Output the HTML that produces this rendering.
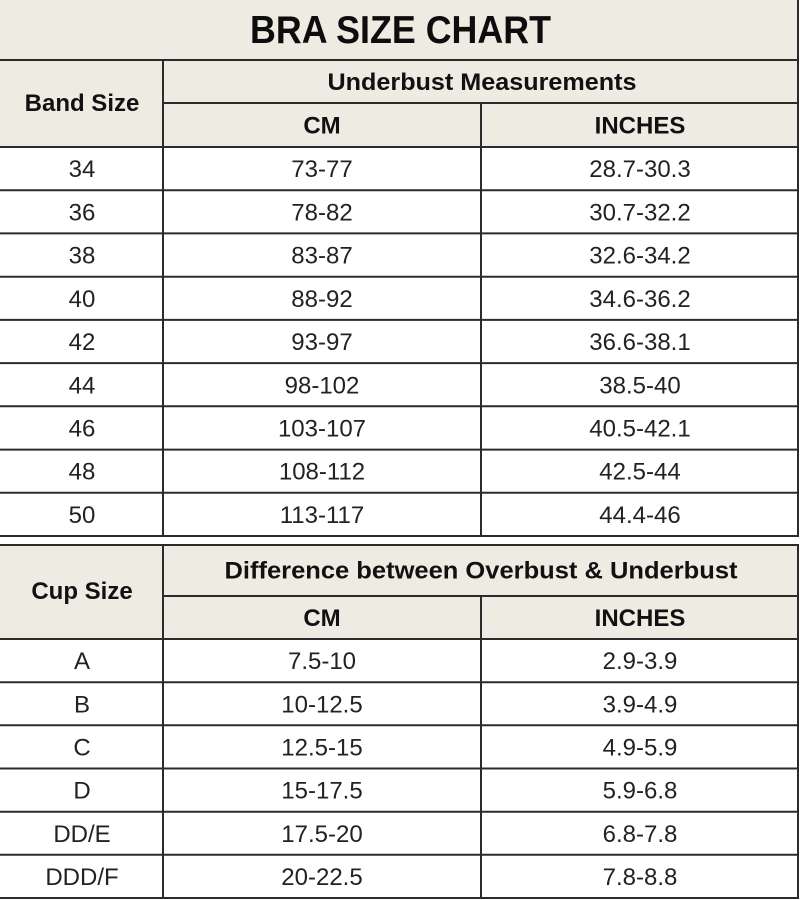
<!DOCTYPE html>
<html><head><meta charset="utf-8"><style>
html,body{margin:0;padding:0;background:#fff;}
svg{display:block;}
text{font-family:"Liberation Sans",sans-serif;}
.h{font-weight:bold;font-size:24px;fill:#111;}
.d{font-size:24px;fill:#222;}
</style></head><body>
<svg width="800" height="900" viewBox="0 0 800 900" xmlns="http://www.w3.org/2000/svg">
<rect x="0" y="0" width="800" height="900" fill="#fff"/>
<!-- backgrounds -->
<rect x="0" y="0" width="799" height="147" fill="#eeece2"/>
<rect x="0" y="545" width="799" height="94" fill="#eeece2"/>
<g stroke="#2b2b2b" stroke-width="2" fill="none">
<!-- table 1 horizontals -->
<line x1="0" y1="60" x2="799" y2="60"/>
<line x1="163" y1="103" x2="799" y2="103"/>
<line x1="0" y1="147" x2="799" y2="147"/>
<line x1="0" y1="190.2" x2="799" y2="190.2"/>
<line x1="0" y1="233.4" x2="799" y2="233.4"/>
<line x1="0" y1="276.7" x2="799" y2="276.7"/>
<line x1="0" y1="319.9" x2="799" y2="319.9"/>
<line x1="0" y1="363.1" x2="799" y2="363.1"/>
<line x1="0" y1="406.3" x2="799" y2="406.3"/>
<line x1="0" y1="449.6" x2="799" y2="449.6"/>
<line x1="0" y1="492.8" x2="799" y2="492.8"/>
<line x1="0" y1="536" x2="799" y2="536"/>
<!-- table 1 verticals -->
<line x1="163" y1="60" x2="163" y2="536"/>
<line x1="481" y1="103" x2="481" y2="536"/>
<line x1="798" y1="0" x2="798" y2="536"/>
<!-- table 2 horizontals -->
<line x1="0" y1="545" x2="799" y2="545"/>
<line x1="163" y1="596" x2="799" y2="596"/>
<line x1="0" y1="639" x2="799" y2="639"/>
<line x1="0" y1="682.2" x2="799" y2="682.2"/>
<line x1="0" y1="725.3" x2="799" y2="725.3"/>
<line x1="0" y1="768.5" x2="799" y2="768.5"/>
<line x1="0" y1="811.7" x2="799" y2="811.7"/>
<line x1="0" y1="854.8" x2="799" y2="854.8"/>
<line x1="0" y1="898" x2="799" y2="898"/>
<!-- table 2 verticals -->
<line x1="163" y1="545" x2="163" y2="898"/>
<line x1="481" y1="596" x2="481" y2="898"/>
<line x1="798" y1="545" x2="798" y2="898"/>
</g>

<text x="400.5" y="43" text-anchor="middle" font-weight="bold" font-size="39" fill="#0d0d0d" textLength="301" lengthAdjust="spacingAndGlyphs">BRA SIZE CHART</text>

<text class="h" x="82" y="111" text-anchor="middle">Band Size</text>
<text class="h" x="482" y="90" text-anchor="middle" textLength="309" lengthAdjust="spacingAndGlyphs">Underbust Measurements</text>
<text class="h" x="322" y="133.5" text-anchor="middle">CM</text>
<text class="h" x="640" y="133.5" text-anchor="middle">INCHES</text>

<g class="d" text-anchor="middle">
<text class="d" x="82" y="177.2">34</text><text class="d" x="322" y="177.2">73-77</text><text class="d" x="640" y="177.2">28.7-30.3</text>
<text class="d" x="82" y="220.4">36</text><text class="d" x="322" y="220.4">78-82</text><text class="d" x="640" y="220.4">30.7-32.2</text>
<text class="d" x="82" y="263.6">38</text><text class="d" x="322" y="263.6">83-87</text><text class="d" x="640" y="263.6">32.6-34.2</text>
<text class="d" x="82" y="306.9">40</text><text class="d" x="322" y="306.9">88-92</text><text class="d" x="640" y="306.9">34.6-36.2</text>
<text class="d" x="82" y="350.1">42</text><text class="d" x="322" y="350.1">93-97</text><text class="d" x="640" y="350.1">36.6-38.1</text>
<text class="d" x="82" y="393.3">44</text><text class="d" x="322" y="393.3">98-102</text><text class="d" x="640" y="393.3">38.5-40</text>
<text class="d" x="82" y="436.5">46</text><text class="d" x="322" y="436.5">103-107</text><text class="d" x="640" y="436.5">40.5-42.1</text>
<text class="d" x="82" y="479.7">48</text><text class="d" x="322" y="479.7">108-112</text><text class="d" x="640" y="479.7">42.5-44</text>
<text class="d" x="82" y="522.9">50</text><text class="d" x="322" y="522.9">113-117</text><text class="d" x="640" y="522.9">44.4-46</text>
</g>

<text class="h" x="82" y="599" text-anchor="middle">Cup Size</text>
<text class="h" x="481" y="578.5" text-anchor="middle" textLength="513" lengthAdjust="spacingAndGlyphs">Difference between Overbust &amp; Underbust</text>
<text class="h" x="322" y="626" text-anchor="middle">CM</text>
<text class="h" x="640" y="626" text-anchor="middle">INCHES</text>

<g text-anchor="middle">
<text class="d" x="82" y="669.2">A</text><text class="d" x="322" y="669.2">7.5-10</text><text class="d" x="640" y="669.2">2.9-3.9</text>
<text class="d" x="82" y="712.4">B</text><text class="d" x="322" y="712.4">10-12.5</text><text class="d" x="640" y="712.4">3.9-4.9</text>
<text class="d" x="82" y="755.5">C</text><text class="d" x="322" y="755.5">12.5-15</text><text class="d" x="640" y="755.5">4.9-5.9</text>
<text class="d" x="82" y="798.7">D</text><text class="d" x="322" y="798.7">15-17.5</text><text class="d" x="640" y="798.7">5.9-6.8</text>
<text class="d" x="82" y="841.9">DD/E</text><text class="d" x="322" y="841.9">17.5-20</text><text class="d" x="640" y="841.9">6.8-7.8</text>
<text class="d" x="82" y="885">DDD/F</text><text class="d" x="322" y="885">20-22.5</text><text class="d" x="640" y="885">7.8-8.8</text>
</g>
</svg>
</body></html>
